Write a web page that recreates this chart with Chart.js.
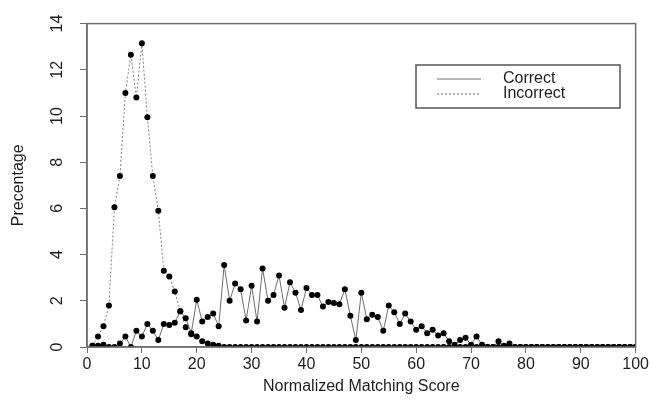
<!DOCTYPE html>
<html>
<head>
<meta charset="utf-8">
<script src="https://cdn.jsdelivr.net/npm/chart.js@4.4.1/dist/chart.umd.min.js"></script>
<style>
  html, body { margin: 0; padding: 0; background: #fff; }
</style>
</head>
<body>
<canvas id="scoreChart" width="651" height="403"></canvas>
<script>
// --- Data ---
const scores = Array.from({ length: 100 }, (_, i) => i + 1);

const correct = [
  0.05, 0.05, 0.1, 0, 0, 0.15, 0.45, 0, 0.7, 0.45,
  1.0, 0.7, 0.3, 1.0, 0.95, 1.05, 1.55, 1.25, 0.6, 2.05,
  1.1, 1.3, 1.45, 0.9, 3.55, 2.0, 2.75, 2.5, 1.15, 2.65,
  1.1, 3.4, 2.0, 2.25, 3.1, 1.7, 2.8, 2.35, 1.6, 2.55,
  2.25, 2.25, 1.75, 1.95, 1.9, 1.85, 2.5, 1.35, 0.3, 2.35,
  1.2, 1.4, 1.3, 0.7, 1.8, 1.5, 1.0, 1.45, 1.1, 0.75,
  0.9, 0.6, 0.75, 0.5, 0.6, 0.25, 0.1, 0.3, 0.4, 0.1,
  0.45, 0.1, 0, 0, 0.25, 0.05, 0.15, 0, 0, 0,
  0, 0, 0, 0, 0, 0, 0, 0, 0, 0,
  0, 0, 0, 0, 0, 0, 0, 0, 0, 0
];

const incorrect = [
  0.05, 0.45, 0.9, 1.8, 6.05, 7.4, 11.0, 12.65, 10.8, 13.15,
  9.95, 7.4, 5.9, 3.3, 3.05, 2.4, 1.55, 0.85, 0.55, 0.45,
  0.25, 0.15, 0.1, 0.05, 0, 0, 0, 0, 0, 0,
  0, 0, 0, 0, 0, 0, 0, 0, 0, 0,
  0, 0, 0, 0, 0, 0, 0, 0, 0, 0,
  0, 0, 0, 0, 0, 0, 0, 0, 0, 0,
  0, 0, 0, 0, 0, 0, 0, 0, 0, 0,
  0, 0, 0, 0, 0, 0, 0, 0, 0, 0,
  0, 0, 0, 0, 0, 0, 0, 0, 0, 0,
  0, 0, 0, 0, 0, 0, 0, 0, 0, 0
];

const xTicks = [0, 10, 20, 30, 40, 50, 60, 70, 80, 90, 100];
const yTicks = [0, 2, 4, 6, 8, 10, 12, 14];

// --- Styling ---
const FONT = "'Liberation Sans', Arial, Helvetica, sans-serif";
const AXIS_GRAY = '#6f6f6f';
const TEXT = '#1e1e1e';

const toPoints = arr => arr.map((v, i) => ({ x: scores[i], y: v }));

// box round the plot region (R style frame)
const framePlugin = {
    id: 'frame',
    afterDatasetsDraw(chart) {
        const { ctx, chartArea: a } = chart;
        ctx.save();
        ctx.strokeStyle = AXIS_GRAY;
        ctx.lineWidth = 1.5;
        ctx.strokeRect(a.left, a.top, a.right - a.left, a.bottom - a.top);
        ctx.restore();
    }
};

// legend box in the upper right
const legendPlugin = {
    id: 'boxLegend',
    afterDraw(chart) {
        const { ctx } = chart;
        const sets = chart.data.datasets;
        ctx.save();
        ctx.strokeStyle = '#555';
        ctx.lineWidth = 1.5;
        ctx.strokeRect(416, 65, 204, 43);
        ctx.font = `16px ${FONT}`;
        ctx.textBaseline = 'middle';
        ctx.fillStyle = TEXT;
        sets.forEach((ds, i) => {
            const y = 79 + i * 15;
            ctx.beginPath();
            ctx.strokeStyle = ds.borderColor;
            ctx.lineWidth = 1.2;
            ctx.setLineDash(ds.borderDash || []);
            ctx.moveTo(437, y);
            ctx.lineTo(481, y);
            ctx.stroke();
            ctx.setLineDash([]);
            ctx.fillText(ds.label, 503, y);
        });
        ctx.restore();
    }
};

const chart = new Chart(document.getElementById('scoreChart'), {
    type: 'line',
    data: {
        datasets: [
            {
                label: 'Correct',
                data: toPoints(correct),
                borderColor: '#6e6e6e',
                borderWidth: 1,
                pointRadius: 3,
                pointBackgroundColor: '#000',
                pointBorderWidth: 0,
                tension: 0,
                clip: 0
            },
            {
                label: 'Incorrect',
                data: toPoints(incorrect),
                borderColor: '#808080',
                borderWidth: 1,
                borderDash: [2, 2],
                pointRadius: 3,
                pointBackgroundColor: '#000',
                pointBorderWidth: 0,
                tension: 0,
                clip: 0
            }
        ]
    },
    options: {
        responsive: false,
        animation: false,
        devicePixelRatio: 1,
        layout: { padding: { top: 19, right: 14, left: 0, bottom: 0 } },
        plugins: { legend: { display: false }, tooltip: { enabled: false } },
        scales: {
            x: {
                type: 'linear',
                min: 0,
                max: 100,
                afterBuildTicks: s => { s.ticks = xTicks.map(v => ({ value: v })); },
                afterFit: s => { s.height = 56; },
                ticks: { font: { family: FONT, size: 16 }, color: TEXT, padding: 2, maxRotation: 0 },
                grid: { drawOnChartArea: false, tickLength: 6, color: AXIS_GRAY, lineWidth: 1 },
                border: { color: AXIS_GRAY, width: 1.5 },
                title: {
                    display: true,
                    text: 'Normalized Matching Score',
                    font: { family: FONT, size: 16 },
                    color: TEXT,
                    padding: { top: 0, bottom: 7 }
                }
            },
            y: {
                min: 0,
                max: 14,
                afterBuildTicks: s => { s.ticks = yTicks.map(v => ({ value: v })); },
                afterFit: s => { s.width = 87; },
                ticks: {
                    font: { family: FONT, size: 16 },
                    color: TEXT,
                    minRotation: 90,
                    maxRotation: 90,
                    crossAlign: 'center',
                    padding: 14
                },
                grid: { drawOnChartArea: false, tickLength: 7, color: AXIS_GRAY, lineWidth: 1 },
                border: { color: AXIS_GRAY, width: 1.5 },
                title: {
                    display: true,
                    text: 'Precentage',
                    font: { family: FONT, size: 16 },
                    color: TEXT,
                    padding: { top: 9, bottom: 0 }
                }
            }
        }
    },
    plugins: [framePlugin, legendPlugin]
});
</script>
</body>
</html>
